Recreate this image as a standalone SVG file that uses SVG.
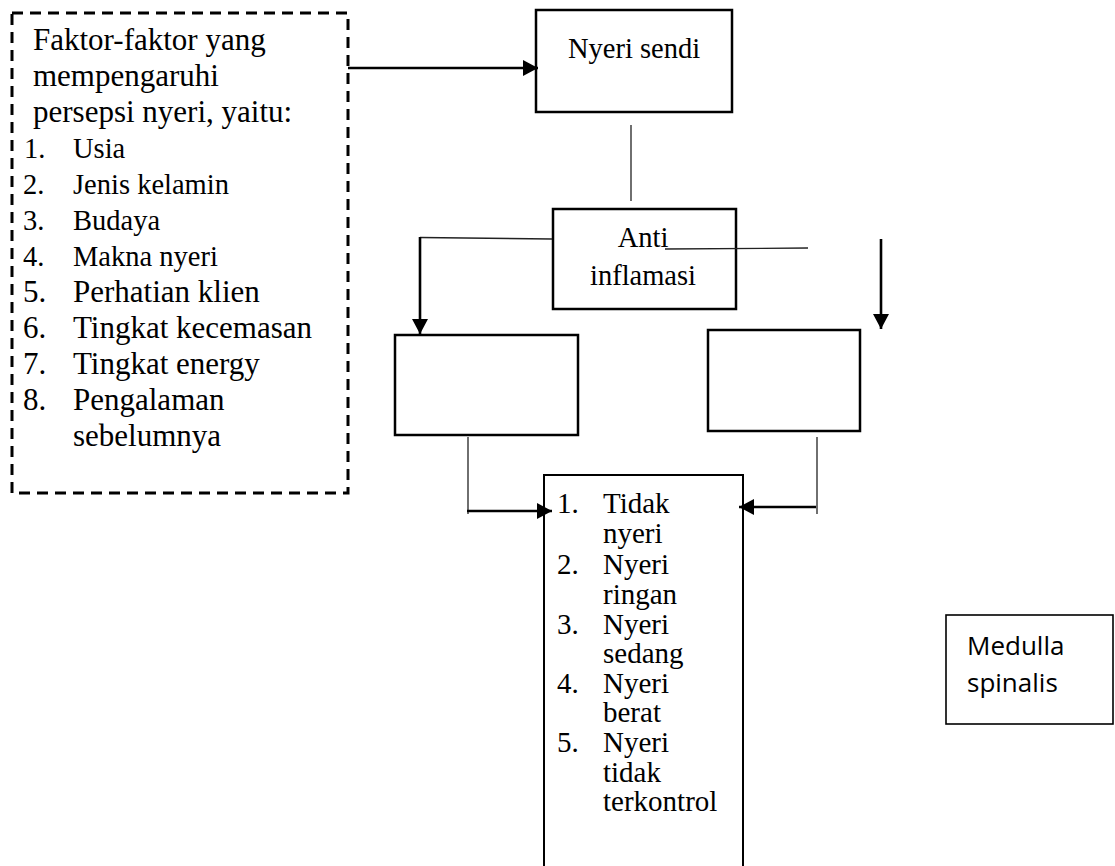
<svg xmlns="http://www.w3.org/2000/svg" width="1115" height="866" viewBox="0 0 1115 866">
<style>
.box{fill:#fff;stroke:#000;stroke-width:2.5}
.t{font-family:"Liberation Serif","Times New Roman",serif;fill:#000}
.thin{stroke:#222;stroke-width:1.3;fill:none}
.thick{stroke:#000;stroke-width:2.6;fill:none}
</style>
<defs>
<marker id="ah" markerUnits="userSpaceOnUse" markerWidth="16" markerHeight="16" refX="15" refY="8" orient="auto">
<path d="M0,0 L15,8 L0,16 z" fill="#000"/>
</marker>
</defs>
<rect width="1115" height="866" fill="#fff"/>
<g id="factors">
<rect x="12" y="13" width="336" height="480" fill="#fff" stroke="#000" stroke-width="3" stroke-dasharray="11 7"/>
<g class="t" font-size="31">
<text x="33" y="50">Faktor-faktor yang</text>
<text x="33" y="86">mempengaruhi</text>
<text x="33" y="122">persepsi nyeri, yaitu:</text>
</g>
<g class="t" font-size="28.5">
<text x="24" y="158">1.</text><text x="73" y="158">Usia</text>
<text x="23" y="194">2.</text><text x="73" y="194">Jenis kelamin</text>
<text x="23" y="230">3.</text><text x="73" y="230">Budaya</text>
<text x="23" y="266">4.</text><text x="73" y="266">Makna nyeri</text>
</g>
<g class="t" font-size="31">
<text x="23" y="302">5.</text><text x="73" y="302">Perhatian klien</text>
<text x="23" y="338">6.</text><text x="73" y="338">Tingkat kecemasan</text>
<text x="23" y="374">7.</text><text x="73" y="374">Tingkat energy</text>
<text x="23" y="410">8.</text><text x="73" y="410">Pengalaman</text>
<text x="73" y="446">sebelumnya</text>
</g>
</g>
<g id="nyeri-sendi">
<rect class="box" x="536" y="10" width="196" height="102"/>
<text class="t" font-size="28.5" x="634" y="58" text-anchor="middle">Nyeri sendi</text>
</g>
<g id="anti-inflamasi">
<rect class="box" x="553" y="209" width="183" height="100"/>
<text class="t" font-size="28.5" x="643" y="247" text-anchor="middle">Anti</text>
<text class="t" font-size="28.5" x="643" y="285" text-anchor="middle">inflamasi</text>
</g>
<g id="left-box">
<rect class="box" x="395" y="335" width="183" height="100"/>
</g>
<g id="right-box">
<rect class="box" x="708" y="330" width="152" height="101"/>
</g>
<g id="result">
<rect x="544" y="475" width="199" height="400" fill="#fff" stroke="#000" stroke-width="2"/>
<g class="t" font-size="29">
<text x="557" y="513">1.</text><text x="603" y="513">Tidak</text>
<text x="603" y="543">nyeri</text>
<text x="557" y="574">2.</text><text x="603" y="574">Nyeri</text>
<text x="603" y="604">ringan</text>
<text x="557" y="634">3.</text><text x="603" y="634">Nyeri</text>
<text x="603" y="663">sedang</text>
<text x="557" y="693">4.</text><text x="603" y="693">Nyeri</text>
<text x="603" y="722">berat</text>
<text x="557" y="752">5.</text><text x="603" y="752">Nyeri</text>
<text x="603" y="782">tidak</text>
<text x="603" y="811">terkontrol</text>
</g>
</g>
<g id="medulla">
<rect x="946" y="615" width="167" height="109" fill="#fff" stroke="#000" stroke-width="1.6"/>
<text font-family="'Open Sans','Noto Sans',sans-serif" font-size="26" x="967" y="655">Medulla</text>
<text font-family="'Open Sans','Noto Sans',sans-serif" font-size="26" x="967" y="692">spinalis</text>
</g>
<g id="connectors">
<line class="thick" x1="348" y1="68" x2="538" y2="68" marker-end="url(#ah)"/>
<line class="thin" x1="631" y1="125" x2="631" y2="201"/>
<line class="thin" x1="552" y1="239" x2="420" y2="237.5"/>
<line class="thick" x1="420" y1="237" x2="420" y2="334" marker-end="url(#ah)"/>
<line class="thin" x1="665" y1="249" x2="808" y2="248"/>
<line class="thick" x1="881" y1="239" x2="881" y2="329" marker-end="url(#ah)"/>
<line class="thin" x1="468" y1="437" x2="468" y2="514"/>
<line class="thick" x1="467" y1="511" x2="552" y2="511" marker-end="url(#ah)"/>
<line class="thin" x1="817" y1="437" x2="817" y2="514"/>
<line class="thick" x1="816" y1="507" x2="739" y2="507" marker-end="url(#ah)"/>
</g>
</svg>
